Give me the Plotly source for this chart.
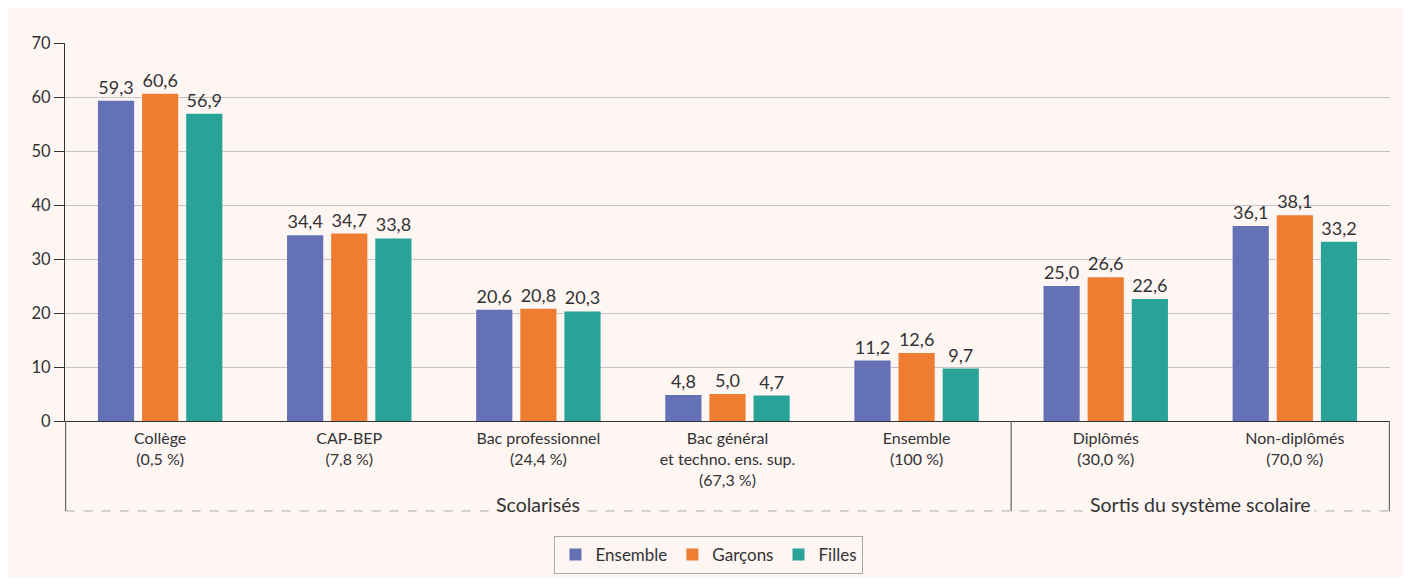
import plotly.graph_objects as go

categories = ["Collège<br>(0,5 %)", "CAP-BEP<br>(7,8 %)", "Bac professionnel<br>(24,4 %)",
              "Bac général<br>et techno. ens. sup.<br>(67,3 %)", "Ensemble<br>(100 %)",
              "Diplômés<br>(30,0 %)", "Non-diplômés<br>(70,0 %)"]
ensemble = [59.3, 34.4, 20.6, 4.8, 11.2, 25.0, 36.1]
garcons = [60.6, 34.7, 20.8, 5.0, 12.6, 26.6, 38.1]
filles = [56.9, 33.8, 20.3, 4.7, 9.7, 22.6, 33.2]
series_names = ["Ensemble", "Garçons", "Filles"]
groups = ["Scolarisés", "Sortis du système scolaire"]
y_ticks = [0, 10, 20, 30, 40, 50, 60, 70]

colors = ["#6571b6", "#ee7d31", "#29a397"]
bg = "#fdf6f3"
txt = "#333333"
font_family = "Lato, 'Noto Sans', sans-serif"

def fmt(v):
    return f"{v:.1f}".replace(".", ",")

fig = go.Figure()
for name, vals, c in zip(series_names, [ensemble, garcons, filles], colors):
    fig.add_trace(go.Bar(
        x=categories, y=vals, name=name, marker_color=c, marker_line_width=0,
        text=[fmt(v) for v in vals], textposition="outside",
        textfont=dict(size=18, color=txt, family=font_family), cliponaxis=False,
    ))

# vertical separators below the axis and dashed bracket line
y_low = -0.238
for xv in [-0.5, 4.5, 6.5]:
    fig.add_shape(type="line", xref="x", yref="paper", x0=xv, x1=xv, y0=0, y1=y_low,
                  line=dict(color="#666666", width=1.2))
fig.add_shape(type="line", xref="x", yref="paper", x0=-0.5, x1=6.5, y0=y_low, y1=y_low,
              line=dict(color="#aaaaaa", width=1, dash="dash"))

for xc, label in zip([2.0, 5.5], groups):
    fig.add_annotation(x=xc, y=y_low + 0.018, xref="x", yref="paper", text=label,
                       showarrow=False, bgcolor=bg, borderpad=3,
                       xanchor="center", yanchor="middle",
                       font=dict(size=19.5, color=txt, family=font_family))

fig.update_layout(
    width=1395, height=569,
    paper_bgcolor=bg, plot_bgcolor=bg,
    margin=dict(l=57, r=13, t=35, b=156, autoexpand=False),
    barmode="group", bargap=0.30, bargroupgap=0.18,
    font=dict(family=font_family, color=txt),
    showlegend=True,
    legend=dict(orientation="h", x=0.486, xanchor="center", y=-0.304, yanchor="top",
                bordercolor="#aaaaaa", borderwidth=1, bgcolor=bg,
                font=dict(size=17, color=txt, family=font_family),
                itemwidth=30, traceorder="normal"),
    xaxis=dict(showline=True, linecolor="#333333", linewidth=1.2, ticks="",
               ticklabelstandoff=3, automargin=False,
               tickfont=dict(size=16, color=txt, family=font_family), showgrid=False),
    yaxis=dict(range=[0, 70], tickvals=y_ticks, showgrid=True, gridcolor="#c4c4c4",
               gridwidth=1, showline=True, linecolor="#333333", linewidth=1.2,
               ticks="outside", ticklen=10, tickcolor="#333333", automargin=False,
               tickfont=dict(size=16.5, color=txt, family=font_family), zeroline=False),
)

fig.write_html("out.html")
